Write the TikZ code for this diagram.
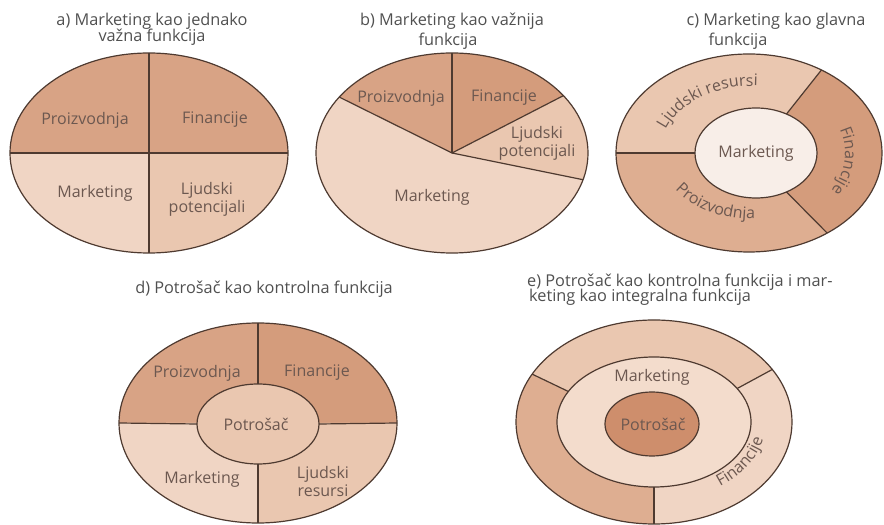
\documentclass[tikz,border=0pt]{standalone}
\usepackage{fontspec}
\setmainfont{Open Sans}
\usetikzlibrary{calc,decorations.text}
\definecolor{darkA}{RGB}{216,163,133}
\definecolor{darkB}{RGB}{212,156,124}
\definecolor{midA}{RGB}{222,174,145}
\definecolor{lightA}{RGB}{234,199,176}
\definecolor{paleA}{RGB}{240,213,196}
\definecolor{ringA}{RGB}{243,220,204}
\definecolor{creamA}{RGB}{248,238,232}
\definecolor{rustA}{RGB}{206,142,108}
\definecolor{edgeA}{RGB}{78,58,48}
\definecolor{textA}{RGB}{108,88,80}
\definecolor{titleA}{RGB}{80,80,80}
\newcommand\labfont{\fontsize{16}{18}\selectfont}
\newcommand\ttlfont{\fontsize{16.3}{18}\selectfont}

\begin{document}
\begin{tikzpicture}[x=1pt,y=1pt,
  part/.style={draw=edgeA,line width=1.2pt},
  lab/.style={font=\labfont,text=textA,align=center,inner sep=0pt},
  ttl/.style={font=\ttlfont,text=titleA,inner sep=0pt,anchor=base},
  curved/.style={decorate,decoration={text along path,text align=center,
      text={|\labfont\color{textA}|#1}}},
  ra/.style={x radius=139pt,y radius=100pt},
  rb/.style={x radius=136pt,y radius=100pt},
  rc/.style={x radius=133pt,y radius=99pt},
  rci/.style={x radius=61pt,y radius=45pt},
  rd/.style={x radius=139pt,y radius=100pt},
  rdi/.style={x radius=61pt,y radius=40pt},
  re/.style={x radius=138pt,y radius=102pt},
  rei/.style={x radius=97pt,y radius=65pt}]
  \useasboundingbox (0,0) rectangle (884,525);

  % a) four equal parts
  \coordinate (ca) at (149,372);
  \fill[darkA] (ca) -- ++(0:139pt and 100pt) arc[start angle=0,end angle=180,ra] -- cycle;
  \fill[paleA] (ca) -- ++(180:139pt and 100pt) arc[start angle=180,end angle=270,ra] -- cycle;
  \fill[lightA] (ca) -- ++(270:139pt and 100pt) arc[start angle=270,end angle=360,ra] -- cycle;
  \draw[part] (ca) ellipse[ra];
  \draw[part] ($(ca)+(-139,0)$) -- ($(ca)+(139,0)$);
  \draw[part] ($(ca)+(0,100)$) -- ($(ca)+(0,-100)$);
  \node[lab] (a prod) at (85,405) {Proizvodnja};
  \node[lab] (a fin) at (215,405) {Financije};
  \node[lab] (a mark) at (95,332) {Marketing};
  \node[lab] (a ljud) at (207,326) {Ljudski\\potencijali};
  \node[ttl] (a title1) at (152,499) {a) Marketing kao jednako};
  \node[ttl] (a title2) at (152,483) {važna funkcija};

  % b) marketing gets the bigger slice
  \coordinate (cb) at (452,372);
  \fill[darkA] (cb) -- ++(90:136pt and 100pt) arc[start angle=90,end angle=146,rb] -- cycle;
  \fill[darkB] (cb) -- ++(35:136pt and 100pt) arc[start angle=35,end angle=90,rb] -- cycle;
  \fill[lightA] (cb) -- ++(-15.5:136pt and 100pt) arc[start angle=-15.5,end angle=35,rb] -- cycle;
  \fill[paleA] (cb) -- ++(146:136pt and 100pt) arc[start angle=146,end angle=344.5,rb] -- cycle;
  \draw[part] (cb) ellipse[rb];
  \foreach \t in {90,146,35,-15.5}
    \draw[part] (cb) -- ++(\t:136pt and 100pt);
  \node[lab] (b prod) at (401,427) {Proizvodnja};
  \node[lab] (b fin) at (504,427) {Financije};
  \node[lab] (b ljud) at (537,382) {Ljudski\\potencijali};
  \node[lab] (b mark) at (432,328) {Marketing};
  \node[ttl] (b title1) at (452,499) {b) Marketing kao važnija};
  \node[ttl] (b title2) at (448,479) {funkcija};

  % c) marketing in the middle
  \coordinate (oc) at (749,372);
  \coordinate (ic) at (756,372);
  \coordinate (mc) at (752,372);
  \fill[lightA] ($(oc)+(57:133pt and 99pt)$) arc[start angle=57,end angle=180,rc]
    -- ($(ic)+(180:61pt and 45pt)$) arc[start angle=180,end angle=60,rci] -- cycle;
  \fill[darkB] ($(oc)+(-54:133pt and 99pt)$) arc[start angle=-54,end angle=57,rc]
    -- ($(ic)+(60:61pt and 45pt)$) arc[start angle=60,end angle=-60,rci] -- cycle;
  \fill[midA] ($(oc)+(180:133pt and 99pt)$) arc[start angle=180,end angle=306,rc]
    -- ($(ic)+(300:61pt and 45pt)$) arc[start angle=300,end angle=180,rci] -- cycle;
  \draw[part] (oc) ellipse[rc];
  \filldraw[part,fill=creamA] (ic) ellipse[rci];
  \draw[part] ($(oc)+(180:133pt and 99pt)$) -- ($(ic)+(180:61pt and 45pt)$);
  \draw[part] ($(oc)+(57:133pt and 99pt)$) -- ($(ic)+(60:61pt and 45pt)$);
  \draw[part] ($(oc)+(-54:133pt and 99pt)$) -- ($(ic)+(-60:61pt and 45pt)$);
  \node[lab] (c mark) at (756,372) {Marketing};
  \path[curved={Ljudski resursi}] ($(mc)+(174:92pt and 67pt)$)
    arc[start angle=174,end angle=76,x radius=92pt,y radius=67pt];
  \path[curved={Financije}] ($(mc)+(24:93pt and 72pt)$)
    arc[start angle=24,end angle=-36,x radius=93pt,y radius=72pt];
  \path[curved={Proizvodnja}] ($(mc)+(198:92pt and 66pt)$)
    arc[start angle=198,end angle=284,x radius=92pt,y radius=66pt];
  \node[ttl] (c title1) at (776,499) {c) Marketing kao glavna};
  \node[ttl] (c title2) at (738,479) {funkcija};

  % d) consumer in the middle
  \coordinate (cd) at (258,102);
  \coordinate (id) at (258,101);
  \fill[darkA] (cd) -- ++(90:139pt and 100pt) arc[start angle=90,end angle=180,rd] -- cycle;
  \fill[darkB] (cd) -- ++(0:139pt and 100pt) arc[start angle=0,end angle=90,rd] -- cycle;
  \fill[paleA] (cd) -- ++(180:139pt and 100pt) arc[start angle=180,end angle=270,rd] -- cycle;
  \fill[lightA] (cd) -- ++(270:139pt and 100pt) arc[start angle=270,end angle=360,rd] -- cycle;
  \draw[part] (cd) ellipse[rd];
  \filldraw[part,fill=lightA] (id) ellipse[rdi];
  \foreach \t in {0,90,180,270}
    \draw[part] ($(cd)+(\t:139pt and 100pt)$) -- ($(id)+(\t:61pt and 40pt)$);
  \node[lab] (d prod) at (197,152) {Proizvodnja};
  \node[lab] (d fin) at (317,152) {Financije};
  \node[lab] (d pot) at (256,101) {Potrošač};
  \node[lab] (d mark) at (202,46) {Marketing};
  \node[lab] (d ljud) at (323,43) {Ljudski\\resursi};
  \node[ttl] (d title) at (264,231) {d) Potrošač kao kontrolna funkcija};

  % e) consumer in the middle, marketing around it
  \coordinate (ce) at (654,103);
  \coordinate (pe) at (652,101);
  \fill[lightA] ($(ce)+(31:138pt and 102pt)$) arc[start angle=31,end angle=152,re]
    -- ($(ce)+(152:97pt and 65pt)$) arc[start angle=152,end angle=31,rei] -- cycle;
  \fill[midA] ($(ce)+(152:138pt and 102pt)$) arc[start angle=152,end angle=270,re]
    -- ($(ce)+(270:97pt and 65pt)$) arc[start angle=270,end angle=152,rei] -- cycle;
  \fill[paleA] ($(ce)+(270:138pt and 102pt)$) arc[start angle=270,end angle=391,re]
    -- ($(ce)+(391:97pt and 65pt)$) arc[start angle=391,end angle=270,rei] -- cycle;
  \draw[part] (ce) ellipse[re];
  \filldraw[part,fill=ringA] (ce) ellipse[rei];
  \filldraw[part,fill=rustA] (pe) ellipse[x radius=47pt,y radius=32pt];
  \foreach \t in {31,152,270}
    \draw[part] ($(ce)+(\t:138pt and 102pt)$) -- ($(ce)+(\t:97pt and 65pt)$);
  \node[lab] (e mark) at (652,148) {Marketing};
  \node[lab] (e pot) at (653,101) {Potrošač};
  \path[curved={Financije}] ($(ce)+(-68:112pt and 80pt)$)
    arc[start angle=-68,end angle=6,x radius=112pt,y radius=80pt];
  \node[ttl,anchor=base west] (e title1) at (527,238) {e) Potrošač kao kontrolna funkcija i mar-};
  \node[ttl,anchor=base west] (e title2) at (529,223) {keting kao integralna funkcija};
\end{tikzpicture}
\end{document}
